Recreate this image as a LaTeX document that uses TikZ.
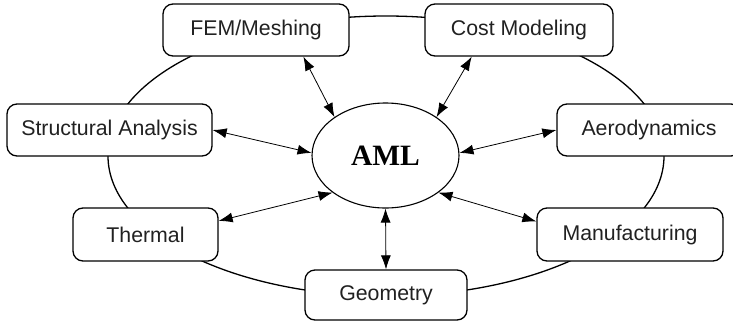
\documentclass[tikz,border=0pt]{standalone}
\usepackage{fontspec}
\setmainfont{Liberation Sans}
\newfontfamily\amlfont{Liberation Serif}
\usetikzlibrary{shapes.geometric,arrows.meta,calc}
\begin{document}
\begin{tikzpicture}[x=1pt,y=-1pt,
  boxnode/.style={draw=black,line width=1.3pt,rounded corners=10pt,fill=white,
    minimum height=52pt,inner sep=0pt,text=black!87,
    font=\fontsize{21.3}{24}\selectfont},
  link/.style={line width=0.8pt,{Latex[length=14pt,width=10pt]}-{Latex[length=14pt,width=10pt]}}]
\useasboundingbox (0,0) rectangle (733,322);
\fill[white] (0,0) rectangle (733,322);
\draw[line width=1.3pt] (386,156) ellipse [x radius=278pt, y radius=140pt];
\node[draw=black,line width=1.1pt,shape=ellipse,fill=white,minimum width=147pt,minimum height=105pt,inner sep=0pt,
  font=\amlfont\bfseries\fontsize{29.5}{32}\selectfont] (aml) at (385.5,155.5) {AML};
\node[boxnode,minimum width=186pt] (fem) at (256,30) {FEM/Meshing};
\node[boxnode,minimum width=188pt] (cost) at (519,30) {Cost Modeling};
\node[boxnode,minimum width=205pt] (struct) at (109.5,130) {Structural Analysis};
\node[boxnode,minimum width=184pt] (aero) at (649,130) {Aerodynamics};
\node[boxnode,minimum width=145pt,minimum height=53pt] (thermal) at (145.5,234.5) {Thermal};
\node[boxnode,minimum width=186pt,minimum height=53pt] (manu) at (630,234.5) {Manufacturing};
\node[boxnode,minimum width=162pt,minimum height=50pt] (geom) at (386,295) {Geometry};
\draw[link] ($(fem.south west)!0.753!(fem.south east)$) -- (aml.143);
\draw[link] ($(cost.south west)!0.25!(cost.south east)$) -- (aml.37);
\draw[link] (struct.east) -- (aml.178);
\draw[link] (aero.west) -- (aml.2);
\draw[link] ($(thermal.north east)!0.25!(thermal.south east)$) -- (aml.215);
\draw[link] ($(manu.north west)!0.26!(manu.south west)$) -- (aml.325);
\draw[link] (geom.north) -- (aml.south);
\end{tikzpicture}
\end{document}
